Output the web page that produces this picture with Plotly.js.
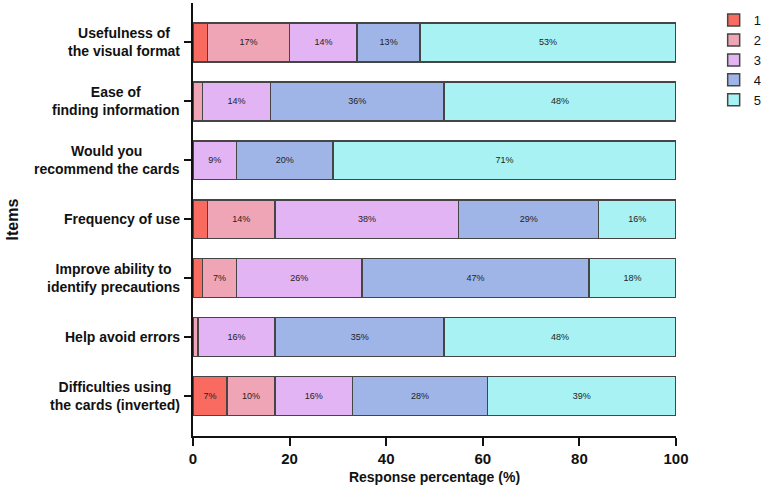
<!DOCTYPE html>
<html>
<head>
<meta charset="utf-8">
<script src="https://cdn.plot.ly/plotly-3.0.1.min.js"></script>
<style>
  html, body { margin: 0; padding: 0; background: #fff; }
  #chart { width: 767px; height: 487px; }
</style>
</head>
<body>
<div id="chart"></div>
<script>
// Survey items, top to bottom
const items = [
  "Usefulness of<br>the visual format",
  "Ease of<br>finding information",
  "Would you<br>recommend the cards",
  "Frequency of use",
  "Improve ability to<br>identify precautions",
  "Help avoid errors",
  "Difficulties using<br>the cards (inverted)"
];

// Share of responses (%) per rating, one value per item
const rating1 = [3, 0, 0, 3, 2, 0, 7];
const rating2 = [17, 2, 0, 14, 7, 1, 10];
const rating3 = [14, 14, 9, 38, 26, 16, 16];
const rating4 = [13, 36, 20, 29, 47, 35, 28];
const rating5 = [53, 48, 71, 16, 18, 48, 39];

const ratingNames = ["1", "2", "3", "4", "5"];
const ratingColors = ["#F96A60", "#F0A5B6", "#E2B4F4", "#9FB5E8", "#A8F2F3"];

const series = [rating1, rating2, rating3, rating4, rating5];
const font = "Liberation Sans, Arial, Helvetica, sans-serif";

const traces = series.map((vals, i) => ({
  type: "bar",
  orientation: "h",
  name: ratingNames[i],
  y: items,
  x: vals,
  text: vals.map(v => (v >= 5 ? v + "%" : "")),
  textposition: "inside",
  insidetextanchor: "middle",
  textangle: 0,
  constraintext: "none",
  textfont: { family: font, size: 9, color: "#222" },
  marker: { color: ratingColors[i], line: { color: "#454545", width: 1.5 } },
  hoverinfo: "x+name"
}));

// Centered item labels placed left of the y axis ticks
const labelAnnotations = items.map(t => ({
  text: t,
  x: 0, xref: "paper",
  y: t, yref: "y",
  xanchor: "right", yanchor: "middle",
  xshift: -11,
  align: "center",
  showarrow: false,
  font: { family: font, size: 14, color: "#111", weight: "bold" }
}));

const layout = {
  width: 767,
  height: 487,
  margin: { l: 193, r: 91, t: 3, b: 51, autoexpand: false },
  paper_bgcolor: "#fff",
  plot_bgcolor: "#fff",
  barmode: "stack",
  bargap: 0.34,
  showlegend: true,
  legend: {
    x: 1.078, xanchor: "left",
    y: 0.995, yanchor: "top",
    font: { family: font, size: 13, color: "#111" },
    tracegroupgap: 0,
    traceorder: "normal"
  },
  xaxis: {
    range: [0, 100],
    tickvals: [0, 20, 40, 60, 80, 100],
    ticks: "outside",
    ticklen: 8,
    tickwidth: 2,
    tickcolor: "#111",
    showline: true,
    linecolor: "#111",
    linewidth: 2,
    showgrid: false,
    zeroline: false,
    tickfont: { family: font, size: 15, color: "#111", weight: "bold" },
    title: {
      text: "Response percentage (%)",
      font: { family: font, size: 14, color: "#111", weight: "bold" },
      standoff: 6
    }
  },
  yaxis: {
    type: "category",
    categoryorder: "array",
    categoryarray: items,
    range: [6.68, -0.67],
    ticks: "outside",
    ticklen: 7,
    tickwidth: 2,
    tickcolor: "#111",
    showticklabels: false,
    showline: true,
    linecolor: "#111",
    linewidth: 2,
    showgrid: false,
    zeroline: false,
    title: { text: "" }
  },
  annotations: labelAnnotations.concat([{
    text: "Items",
    xref: "paper", yref: "paper",
    x: 0, y: 0.5,
    xanchor: "center", yanchor: "middle",
    xshift: -181,
    textangle: -90,
    showarrow: false,
    font: { family: font, size: 16, color: "#111", weight: "bold" }
  }])
};

Plotly.newPlot("chart", traces, layout, { displayModeBar: false, staticPlot: true });
</script>
</body>
</html>
